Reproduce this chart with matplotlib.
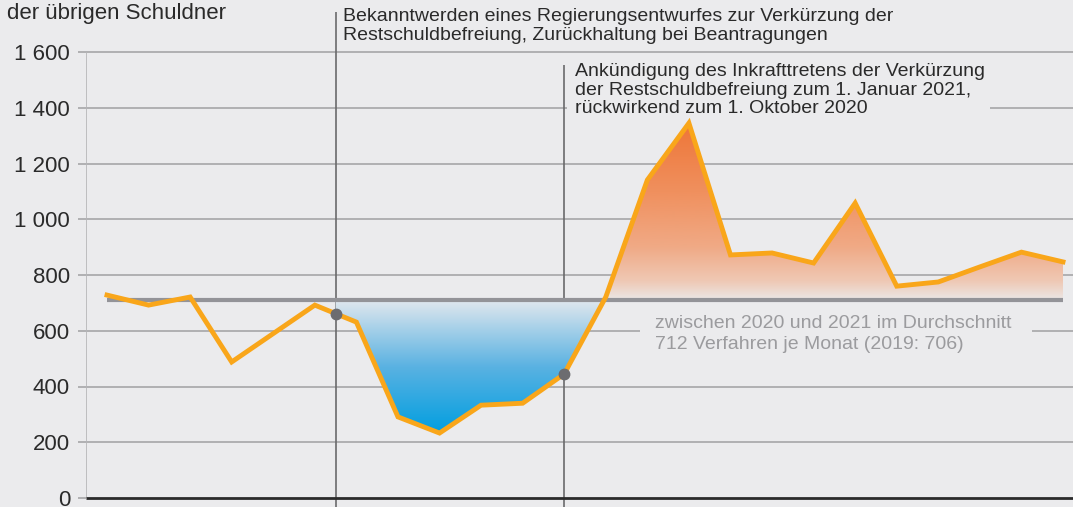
import numpy as np
import matplotlib
matplotlib.use('Agg')
import matplotlib.pyplot as plt
from matplotlib.colors import LinearSegmentedColormap

# --- Daten: Verbraucherinsolvenzen je Monat, Jan 2020 bis Dez 2021 ---
monate = np.arange(24)
verfahren = [728, 692, 721, 488, 590, 692, 631, 291, 233, 333, 340, 445,
             721, 1141, 1345, 872, 879, 843, 1058, 760, 775, 829, 882, 847]
durchschnitt = 712

y_ticks = [0, 200, 400, 600, 800, 1000, 1200, 1400, 1600]
y_tick_labels = ["0", "200", "400", "600", "800", "1 000", "1 200", "1 400", "1 600"]

ereignisse = [5.5, 11]
ereignis_texte = [
    "Bekanntwerden eines Regierungsentwurfes zur Verkürzung der\n"
    "Restschuldbefreiung, Zurückhaltung bei Beantragungen",
    "Ankündigung des Inkrafttretens der Verkürzung\n"
    "der Restschuldbefreiung zum 1. Januar 2021,\n"
    "rückwirkend zum 1. Oktober 2020",
]
mittel_text = "zwischen 2020 und 2021 im Durchschnitt\n712 Verfahren je Monat (2019: 706)"
y_label = "der übrigen Schuldner"

# --- Layout / Farben ---
W, H = 1073, 507
BG = "#ebebed"
TXT = "#2a2a2a"
ORANGE = "#f9a61a"
plt.rcParams['font.family'] = ['Liberation Sans', 'DejaVu Sans']

fig = plt.figure(figsize=(W / 100, H / 100), dpi=100, facecolor=BG)
ax = fig.add_axes([86 / W, 9 / H, (W - 86) / W, 446 / H])
ax.set_facecolor(BG)
for s in ax.spines.values():
    s.set_visible(False)

px_per_x = (1063 - 107) / 23
def xpx(p):
    return (p - 107) / px_per_x
def ypx(p):
    return (498 - p) * 1600 / 446

x0, x1 = xpx(86), xpx(W)

# Gitterlinien (mit Lücken hinter den Texten)
luecken = {600: (640, 1032), 1400: (567, 990)}
for yv in y_ticks[1:]:
    if yv in luecken:
        a, b = luecken[yv]
        ax.hlines(yv, xpx(78), xpx(a), color="#a0a0a2", lw=1.1, clip_on=False, zorder=1)
        ax.hlines(yv, xpx(b), x1, color="#a0a0a2", lw=1.1, clip_on=False, zorder=1)
    else:
        ax.hlines(yv, xpx(78), x1, color="#a0a0a2", lw=1.1, clip_on=False, zorder=1)
ax.hlines(0, xpx(78), x0, color="#a0a0a2", lw=1.1, clip_on=False, zorder=1)
ax.vlines(x0, 0, 1600, color="#b5b5b8", lw=1.2, zorder=1)
ax.hlines(0, x0, x1, color="#2b2b2b", lw=2.0, clip_on=False, zorder=6)

# Ereignislinien
ax.vlines(ereignisse[0], ypx(H), ypx(12), color="#6a6a6c", lw=1.2, clip_on=False, zorder=2)
ax.vlines(ereignisse[1], ypx(H), ypx(65), color="#6a6a6c", lw=1.2, clip_on=False, zorder=2)

# Flächen mit Farbverlauf
xf = np.concatenate([[ereignisse[0]], monate[6:]])
yf = np.interp(xf, monate, verfahren)
blau = ax.fill_between(xf, yf, durchschnitt, where=yf <= durchschnitt, interpolate=True,
                       facecolor='none', edgecolor='none')
orange = ax.fill_between(xf, yf, durchschnitt, where=yf >= durchschnitt, interpolate=True,
                         facecolor='none', edgecolor='none')

cm_blau = LinearSegmentedColormap.from_list(
    "b", [(0, "#009ee0"), (0.5, "#5ab2e2"), (1, "#e2e8ee")])
lo, hi = 712, 1345
stops = [(712, "#ebe7e6"), (780, "#efc8b4"), (900, "#f0aa86"), (1100, "#f0905e"), (1345, "#ee7638")]
cm_orange = LinearSegmentedColormap.from_list(
    "o", [((v - lo) / (hi - lo), c) for v, c in stops])

grad = np.linspace(0, 1, 256).reshape(-1, 1)
im_b = ax.imshow(grad, extent=[x0, x1, 230, durchschnitt], origin='lower', aspect='auto',
                 cmap=cm_blau, zorder=3, interpolation='bilinear')
im_b.set_clip_path(blau.get_paths()[0], ax.transData)
im_o = ax.imshow(grad, extent=[x0, x1, durchschnitt, 1345], origin='lower', aspect='auto',
                 cmap=cm_orange, zorder=3, interpolation='bilinear')
im_o.set_clip_path(orange.get_paths()[0], ax.transData)

# Durchschnittslinie und Verlauf
ax.hlines(durchschnitt, monate[0], monate[-1], color="#939398", lw=3.0, zorder=4)
ax.plot(monate, verfahren, color=ORANGE, lw=3.5, solid_joinstyle='miter', zorder=5)
ax.plot(ereignisse, np.interp(ereignisse, monate, verfahren), 'o', color="#6c6c70",
        ms=7.5, zorder=7)

ax.set_xlim(x0, x1)
ax.set_ylim(0, 1600)
ax.set_xticks([])
ax.set_yticks(y_ticks, y_tick_labels)
ax.tick_params(axis='y', length=0, pad=11.5, labelsize=16, labelcolor=TXT)

# Texte
def fpx(x, y):
    return x / W, 1 - y / H

fig.text(*fpx(7, 19), y_label, fontsize=16, color=TXT, va='baseline', ha='left')
fig.text(*fpx(343, 8), ereignis_texte[0], fontsize=14, color=TXT, va='top', ha='left',
         linespacing=1.12)
fig.text(*fpx(575, 63), ereignis_texte[1], fontsize=14, color=TXT, va='top', ha='left',
         linespacing=1.12)
fig.text(*fpx(655, 315), mittel_text, fontsize=14, color="#9b9b9e", va='top', ha='left',
         linespacing=1.3)

fig.savefig("out.png", dpi=100, facecolor=BG)
